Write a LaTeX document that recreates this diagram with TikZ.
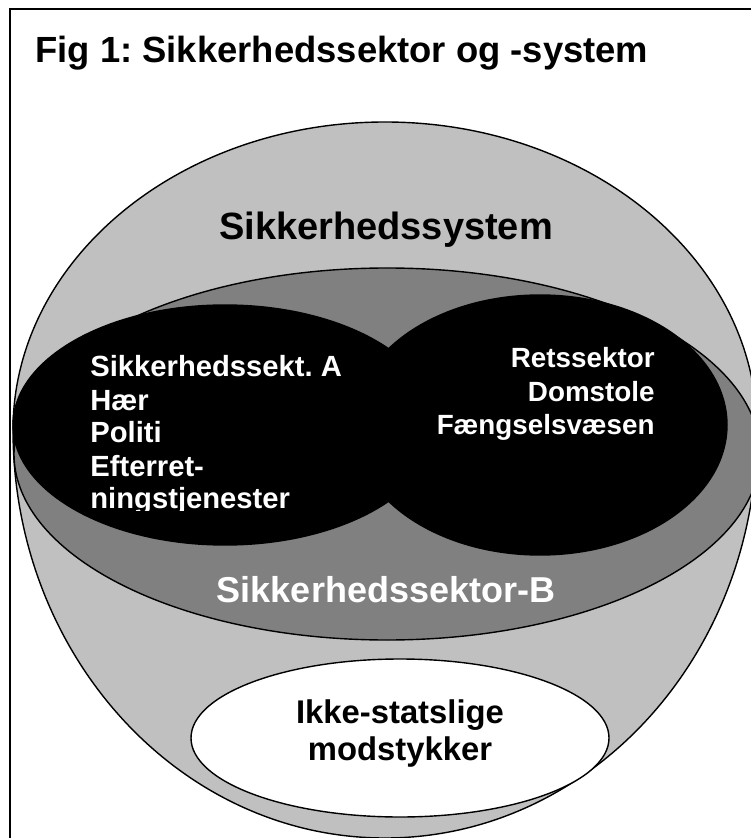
\documentclass[tikz,border=0pt]{standalone}
\usepackage{fontspec}
\setmainfont{Liberation Sans}
\frenchspacing
\usetikzlibrary{positioning}
\definecolor{lightgrey}{HTML}{C0C0C0}
\definecolor{darkgrey}{HTML}{808080}
\tikzset{
  ring/.style={draw=black, line width=0.7pt},
  bigtext/.style={inner sep=0pt, anchor=base, font=\bfseries\fontsize{19}{22}\selectfont},
  listtext/.style={inner sep=0pt, text=white, font=\bfseries\fontsize{14.6}{17}\selectfont},
}
\begin{document}
\begin{tikzpicture}[x=0.5pt,y=-0.5pt]
	\useasboundingbox (0,0) rectangle (750,838);
	% frame, cut by the page on the right and at the bottom
	\draw[line width=1.1pt] (10,860) -- (10,9) -- (780,9);
	\node[inner sep=0pt, anchor=base west, font=\bfseries\fontsize{18.2}{21}\selectfont] (title) at (35,63) {Fig 1: Sikkerhedssektor og -system};

	% rings
	\filldraw[ring, fill=lightgrey] (13,430) arc [start angle=180, end angle=360, x radius=372, y radius=308]
		arc [start angle=0, end angle=180, x radius=372, y radius=408] -- cycle;
	\filldraw[ring, fill=darkgrey]  (387,454) ellipse [x radius=373, y radius=186];
	\filldraw[ring, fill=black]     (225,425) ellipse [x radius=212, y radius=120];
	\filldraw[ring, fill=black]     (540,425) ellipse [x radius=187, y radius=130];
	\filldraw[ring, fill=white]     (400,738) ellipse [x radius=209, y radius=79];

	\node[bigtext] (system)  at (386,240) {Sikkerhedssystem};
	\node[bigtext, text=white, font=\bfseries\fontsize{18}{21}\selectfont] (sectorb) at (386,602) {Sikkerhedssektor-B};

	\foreach \txt [count=\i] in {Sikkerhedssekt. A, Hær, Politi, Efterret-}
		\node[listtext, anchor=base west] (secta\i) at (90,{377+33*(\i-1)}) {\txt};
	\begin{scope}
		\clip (80,480) rectangle (400,510);
		\node[listtext, anchor=base west] (secta5) at (90,508) {ningstjenester};
	\end{scope}

	\foreach \txt [count=\i] in {Retssektor, Domstole, Fængselsvæsen}
		\node[listtext, anchor=base east, font=\bfseries\fontsize{13.9}{17}\selectfont] (justice\i) at (655,{368+33*(\i-1)}) {\txt};

	\foreach \txt [count=\i] in {Ikke-statslige, modstykker}
		\node[bigtext, font=\bfseries\fontsize{16.4}{19}\selectfont] (nonstate\i) at (400,{723+37*(\i-1)}) {\txt};
\end{tikzpicture}
\end{document}
